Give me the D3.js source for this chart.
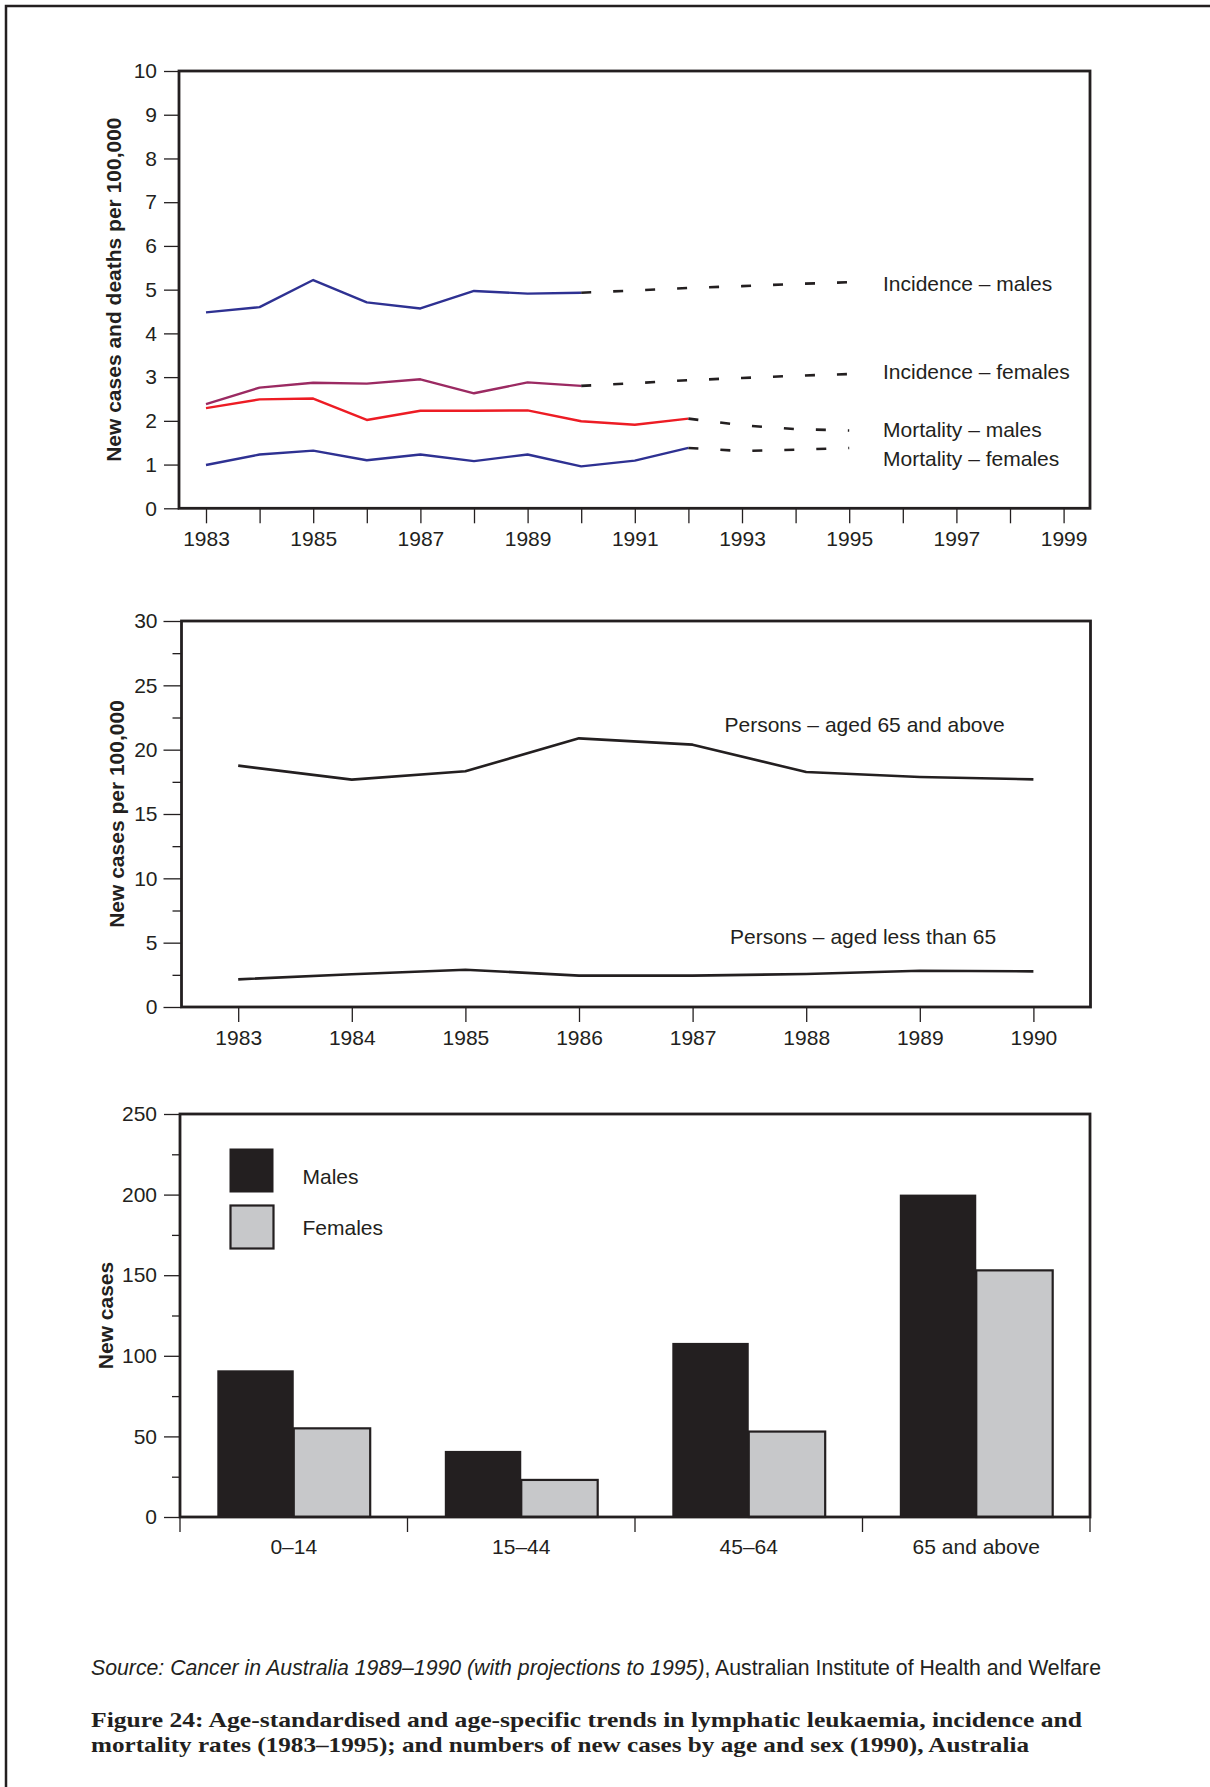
<!DOCTYPE html>
<html>
<head>
<meta charset="utf-8">
<script src="https://cdn.jsdelivr.net/npm/d3@7"></script>
<style>
  html, body { margin: 0; padding: 0; background: #fff; }
  svg { display: block; }
  text { font-family: "Liberation Sans", Arial, Helvetica, sans-serif; fill: #231f20; }
</style>
</head>
<body>
<svg id="chart" width="1210" height="1787"></svg>
<script>
// ---------------- DATA ----------------
// Panel 1: age-standardised rates (per 100,000)
const yearsObserved = [1983, 1984, 1985, 1986, 1987, 1988, 1989, 1990];
const incidenceMales   = [4.48, 4.60, 5.22, 4.71, 4.57, 4.97, 4.91, 4.93];
const incidenceFemales = [2.38, 2.76, 2.87, 2.85, 2.95, 2.63, 2.88, 2.80];
const yearsMortality = [1983, 1984, 1985, 1986, 1987, 1988, 1989, 1990, 1991, 1992];
const mortalityMales   = [2.29, 2.49, 2.51, 2.02, 2.23, 2.23, 2.24, 1.99, 1.91, 2.05];
const mortalityFemales = [0.99, 1.23, 1.32, 1.10, 1.23, 1.08, 1.23, 0.96, 1.09, 1.38];
// projections (dashed)
const yearsProjIncidence = [1990, 1991, 1992, 1993, 1994, 1995];
const projIncidenceMales   = [4.93, 4.98, 5.04, 5.08, 5.13, 5.17];
const projIncidenceFemales = [2.80, 2.86, 2.93, 2.98, 3.03, 3.07];
const yearsProjMortality = [1992, 1993, 1994, 1995];
const projMortalityMales   = [2.05, 1.90, 1.81, 1.78];
const projMortalityFemales = [1.38, 1.31, 1.34, 1.38];
const topSeriesLabels = ["Incidence – males", "Incidence – females", "Mortality – males", "Mortality – females"];
const topYTicks = [0, 1, 2, 3, 4, 5, 6, 7, 8, 9, 10];
const topXTicks = [1983,1984,1985,1986,1987,1988,1989,1990,1991,1992,1993,1994,1995,1996,1997,1998,1999];
const topXLabels = [1983, 1985, 1987, 1989, 1991, 1993, 1995, 1997, 1999];

// Panel 2: age-specific incidence (per 100,000)
const yearsAge = [1983, 1984, 1985, 1986, 1987, 1988, 1989, 1990];
const aged65Plus    = [18.76, 17.67, 18.32, 20.88, 20.39, 18.26, 17.88, 17.69];
const agedUnder65   = [2.15, 2.54, 2.90, 2.44, 2.44, 2.56, 2.82, 2.77];
const midSeriesLabels = ["Persons – aged 65 and above", "Persons – aged less than 65"];
const midYTicks = [0, 5, 10, 15, 20, 25, 30];
const midYMinor = [2.5, 7.5, 12.5, 17.5, 22.5, 27.5];

// Panel 3: new cases by age and sex (1990)
const ageGroups = ["0–14", "15–44", "45–64", "65 and above"];
const sexes = ["Males", "Females"];
const newCasesMales   = [91, 41, 108, 200];
const newCasesFemales = [55, 23, 53, 153];
const botYTicks = [0, 50, 100, 150, 200, 250];
const botYMinor = [25, 75, 125, 175, 225];

const yLabels = ["New cases and deaths per 100,000", "New cases per 100,000", "New cases"];
const sourcePrefix = "Source: Cancer in Australia 1989–1990 (with projections to 1995)";
const sourceSuffix = ", Australian Institute of Health and Welfare";
const captionLines = [
  "Figure 24: Age-standardised and age-specific trends in lymphatic leukaemia, incidence and",
  "mortality rates (1983–1995); and numbers of new cases by age and sex (1990), Australia"
];

// ---------------- DRAW ----------------
const INK = "#231f20";
const FS = 21;
const svg = d3.select("#chart");
svg.append("rect").attr("width", 1210).attr("height", 1787).attr("fill", "#fff");
// page frame
svg.append("rect").attr("x", 6).attr("y", 6).attr("width", 1400).attr("height", 2000)
  .attr("fill", "none").attr("stroke", INK).attr("stroke-width", 2.5);

function zip(xs, ys) { return xs.map((x, i) => ({ x, y: ys[i] })); }

function styleAxis(g) {
  g.select(".domain").remove();
  g.selectAll(".tick line").attr("stroke", INK).attr("stroke-width", 1.3);
  g.selectAll(".tick text").attr("font-size", FS).attr("fill", INK)
    .attr("font-family", "Liberation Sans, Arial, sans-serif");
}

function yTitle(text, cx, cy) {
  svg.append("text")
    .attr("transform", `translate(${cx},${cy}) rotate(-90)`)
    .attr("text-anchor", "middle")
    .attr("font-size", FS).attr("font-weight", "bold")
    .text(text);
}

// ===== Panel 1 =====
{
  const L = 179, R = 1090, T = 71, B = 508.3;
  const x = d3.scaleLinear().domain([1983, 1999]).range([206, 1063.6]);
  const y = d3.scaleLinear().domain([0, 10]).range([B, T]);
  const g = svg.append("g");

  g.append("g").attr("transform", `translate(${L},0)`)
    .call(d3.axisLeft(y).tickValues(topYTicks).tickSize(15).tickPadding(7).tickFormat(d3.format("d")))
    .call(styleAxis);
  g.append("g").attr("transform", `translate(0,${B})`)
    .call(d3.axisBottom(x).tickValues(topXTicks).tickSize(15).tickPadding(8)
      .tickFormat(d => topXLabels.includes(d) ? String(d) : ""))
    .call(styleAxis);

  const line = d3.line().x(d => x(d.x)).y(d => y(d.y));
  const solid = [
    [zip(yearsObserved, incidenceMales), "#2e3192"],
    [zip(yearsObserved, incidenceFemales), "#9b2a62"],
    [zip(yearsMortality, mortalityMales), "#ed1c24"],
    [zip(yearsMortality, mortalityFemales), "#2e3192"]
  ];
  solid.forEach(([data, col]) => {
    g.append("path").datum(data).attr("d", line)
      .attr("fill", "none").attr("stroke", col).attr("stroke-width", 2.4)
      .attr("stroke-linejoin", "round");
  });
  const dashed = [
    zip(yearsProjIncidence, projIncidenceMales),
    zip(yearsProjIncidence, projIncidenceFemales),
    zip(yearsProjMortality, projMortalityMales),
    zip(yearsProjMortality, projMortalityFemales)
  ];
  dashed.forEach(data => {
    g.append("path").datum(data).attr("d", line)
      .attr("fill", "none").attr("stroke", INK).attr("stroke-width", 2.6)
      .attr("stroke-dasharray", "10,22");
  });

  const labelY = [291, 379, 436.5, 465.5];
  topSeriesLabels.forEach((t, i) => {
    g.append("text").attr("x", 883).attr("y", labelY[i]).attr("font-size", FS).text(t);
  });

  g.append("rect").attr("x", L).attr("y", T).attr("width", R - L).attr("height", B - T)
    .attr("fill", "none").attr("stroke", INK).attr("stroke-width", 2.8);
  yTitle(yLabels[0], 121, (T + B) / 2);
}

// ===== Panel 2 =====
{
  const L = 181.5, R = 1090.5, T = 621, B = 1007;
  const x = d3.scaleLinear().domain([1983, 1990]).range([238.2, 1033.4]);
  const y = d3.scaleLinear().domain([0, 30]).range([B, T]);
  const g = svg.append("g");

  g.append("g").attr("transform", `translate(${L},0)`)
    .call(d3.axisLeft(y).tickValues(midYTicks).tickSize(18).tickPadding(6).tickFormat(d3.format("d")))
    .call(styleAxis);
  g.append("g").attr("transform", `translate(${L},0)`)
    .call(d3.axisLeft(y).tickValues(midYMinor).tickSize(9).tickFormat(""))
    .call(styleAxis);
  g.append("g").attr("transform", `translate(0,${B})`)
    .call(d3.axisBottom(x).tickValues(yearsAge).tickSize(15).tickPadding(8).tickFormat(d3.format("d")))
    .call(styleAxis);

  const line = d3.line().x(d => x(d.x)).y(d => y(d.y));
  [aged65Plus, agedUnder65].forEach(vals => {
    g.append("path").datum(zip(yearsAge, vals)).attr("d", line)
      .attr("fill", "none").attr("stroke", INK).attr("stroke-width", 2.6)
      .attr("stroke-linejoin", "round");
  });
  g.append("text").attr("x", 724.5).attr("y", 731.5).attr("font-size", FS).text(midSeriesLabels[0]);
  g.append("text").attr("x", 730).attr("y", 943.5).attr("font-size", FS).text(midSeriesLabels[1]);

  g.append("rect").attr("x", L).attr("y", T).attr("width", R - L).attr("height", B - T)
    .attr("fill", "none").attr("stroke", INK).attr("stroke-width", 2.8);
  yTitle(yLabels[1], 123.5, (T + B) / 2);
}

// ===== Panel 3 =====
{
  const L = 180, R = 1090, T = 1114, B = 1517;
  const x0 = d3.scaleBand().domain(ageGroups).range([L, R]).padding(0);
  const bw = x0.bandwidth();
  const x1 = d3.scaleBand().domain(sexes).range([bw * 0.164, bw * 0.836]).padding(0);
  const y = d3.scaleLinear().domain([0, 250]).range([B, T]);
  const g = svg.append("g");

  g.append("g").attr("transform", `translate(${L},0)`)
    .call(d3.axisLeft(y).tickValues(botYTicks).tickSize(16).tickPadding(7).tickFormat(d3.format("d")))
    .call(styleAxis);
  g.append("g").attr("transform", `translate(${L},0)`)
    .call(d3.axisLeft(y).tickValues(botYMinor).tickSize(8).tickFormat(""))
    .call(styleAxis);
  // category labels
  g.append("g").attr("transform", `translate(0,${B})`)
    .call(d3.axisBottom(x0).tickSize(0).tickPadding(22))
    .call(styleAxis);
  // band boundary ticks
  const bounds = ageGroups.map(c => x0(c)).concat([x0(ageGroups[ageGroups.length - 1]) + bw]);
  g.selectAll(".btick").data(bounds).join("line")
    .attr("x1", d => d).attr("x2", d => d).attr("y1", B).attr("y2", B + 15)
    .attr("stroke", INK).attr("stroke-width", 1.3);

  const rows = ageGroups.map((c, i) => ({ c, Males: newCasesMales[i], Females: newCasesFemales[i] }));
  const fills = { Males: INK, Females: "#c7c8ca" };
  rows.forEach(r => {
    sexes.forEach(s => {
      g.append("rect")
        .attr("x", x0(r.c) + x1(s)).attr("y", y(r[s]))
        .attr("width", x1.bandwidth()).attr("height", B - y(r[s]))
        .attr("fill", fills[s])
        .attr("stroke", s === "Females" ? INK : "none").attr("stroke-width", 2.2);
    });
  });

  // legend
  g.append("rect").attr("x", 229.5).attr("y", 1148.5).attr("width", 44).attr("height", 44).attr("fill", INK);
  g.append("rect").attr("x", 230.5).attr("y", 1205.5).attr("width", 43).attr("height", 43)
    .attr("fill", "#c7c8ca").attr("stroke", INK).attr("stroke-width", 2.2);
  g.append("text").attr("x", 302.5).attr("y", 1184).attr("font-size", FS).text(sexes[0]);
  g.append("text").attr("x", 302.5).attr("y", 1235).attr("font-size", FS).text(sexes[1]);

  g.append("rect").attr("x", L).attr("y", T).attr("width", R - L).attr("height", B - T)
    .attr("fill", "none").attr("stroke", INK).attr("stroke-width", 2.8);
  yTitle(yLabels[2], 112.5, (T + B) / 2);
}

// ===== Source & caption =====
{
  const src = svg.append("text").attr("x", 91).attr("y", 1675).attr("font-size", 19);
  src.append("tspan").attr("font-style", "italic").text(sourcePrefix);
  src.append("tspan").text(sourceSuffix);
  const w = src.node().getComputedTextLength();
  src.attr("font-size", 19 * 1010 / w);

  const capFont = "Liberation Serif, 'Times New Roman', serif";
  const capWidths = [991, 938];
  const capY = [1727, 1751.5];
  captionLines.forEach((t, i) => {
    svg.append("text").attr("x", 91).attr("y", capY[i]).attr("font-size", 21)
      .style("font-family", capFont).attr("font-weight", "bold")
      .attr("textLength", capWidths[i]).attr("lengthAdjust", "spacingAndGlyphs")
      .text(t);
  });
}
</script>
</body>
</html>
